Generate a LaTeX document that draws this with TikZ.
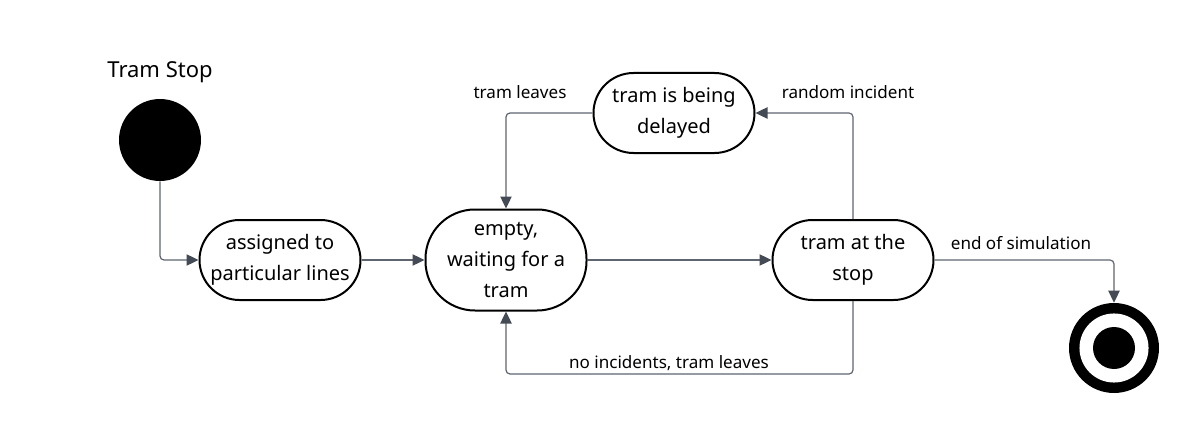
\documentclass[tikz,border=0pt]{standalone}
\usepackage{fontspec}
\setmainfont{Noto Sans}
\usetikzlibrary{arrows.meta}
\begin{document}
\begin{tikzpicture}[x=0.75pt,y=-0.75pt,
  state/.style={draw=black, line width=1.5pt, fill=white, align=center,
    minimum width=120.75pt, minimum height=60pt, rounded corners=30pt, inner sep=1pt,
    font=\fontsize{15}{23.25}\selectfont},
  conn/.style={draw=linegray, line width=0.9pt, rounded corners=3pt,
    -{Triangle[length=9pt,width=8.5pt,color=tipgray]}},
  lbl/.style={font=\fontsize{12.8}{15}\selectfont, inner sep=0pt}]
\definecolor{linegray}{HTML}{5F6570}
\definecolor{tipgray}{HTML}{454B55}
\useasboundingbox (0,0) rectangle (1193,428);
\fill[white] (0,0) rectangle (1193,428);
\node[font=\fontsize{16.5}{20}\selectfont, inner sep=0pt] (title) at (160,72) {Tram Stop};
\node[circle, fill=black, minimum size=61.5pt, inner sep=0pt] (start) at (160,140) {};
\node[state] (A) at (280,260) {assigned to\\particular lines};
\node[state, minimum height=75.75pt, rounded corners=37pt] (B) at (506,260) {empty,\\waiting for a\\tram};
\node[state] (C) at (674,113) {tram is being\\delayed};
\node[state] (D) at (853,260) {tram at the\\stop};
\node[circle, fill=black, minimum size=67.5pt, inner sep=0pt] (end) at (1114,348) {};
\fill[white] (end.center) circle (25.9pt);
\fill[black] (end.center) circle (15.75pt);
\draw[conn] (start.south) |- (A.west);
\draw[conn] (A.east) -- (B.west);
\draw[conn] (B.east) -- (D.west);
\draw[conn] (D.north) |- (C.east);
\draw[conn] (C.west) -| (B.north);
\draw[conn] (D.south) -- ++(0,73) -| (B.south);
\draw[conn] (D.east) -| (end.north);
\node[lbl] (l1) at (848,92) {random incident};
\node[lbl] (l2) at (520,92) {tram leaves};
\node[lbl] (l3) at (669,363) {no incidents, tram leaves};
\node[lbl] (l4) at (1021,243) {end of simulation};
\end{tikzpicture}
\end{document}
